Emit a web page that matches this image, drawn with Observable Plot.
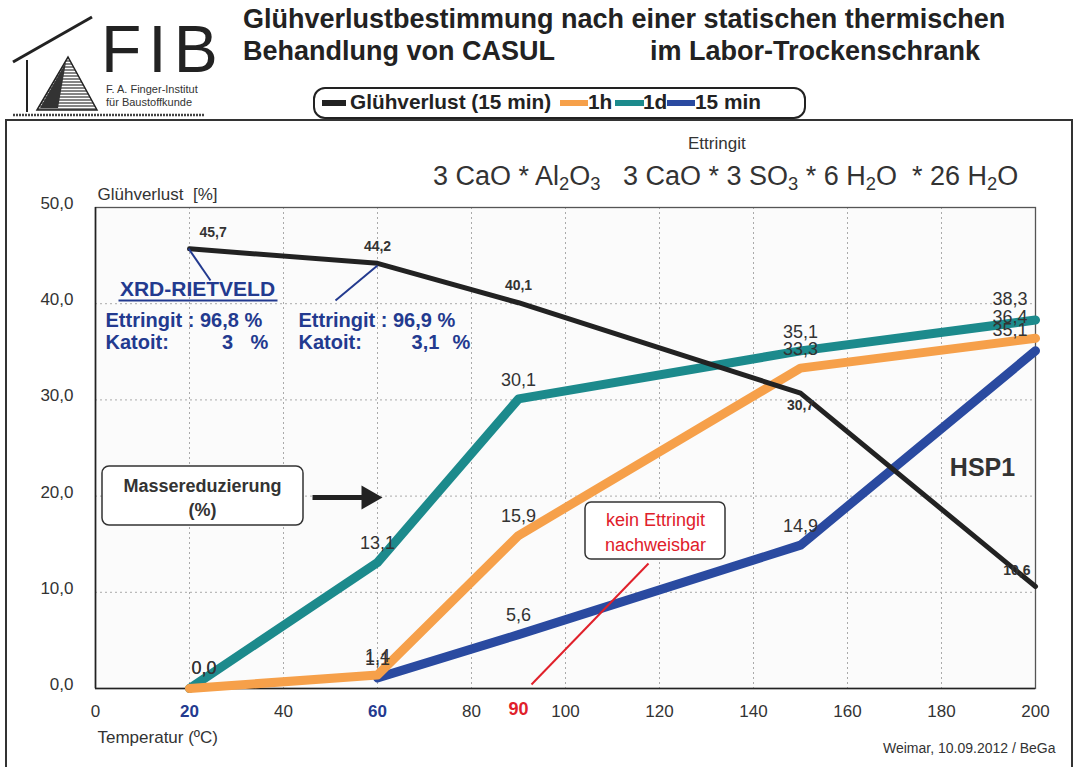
<!DOCTYPE html>
<html><head><meta charset="utf-8">
<script src="https://cdn.jsdelivr.net/npm/d3@7"></script>
<script src="https://cdn.jsdelivr.net/npm/@observablehq/plot@0.6"></script>
<style>
body{margin:0;background:#fff;font-family:"Liberation Sans",Arial,sans-serif;}
#page{position:relative;width:1077px;height:767px;overflow:hidden;background:#fff;color:#222}
.abs{position:absolute;white-space:pre;}
.title{font-weight:bold;font-size:27px;color:#222;}
.leg{font-weight:bold;font-size:20.8px;color:#222;top:90px;}
.sw{position:absolute;top:100px;height:6px;}
sub{font-size:0.68em;vertical-align:-0.25em;line-height:0;}
#plot{position:absolute;left:0;top:120px;}
#frame{position:absolute;left:5px;top:119px;width:1064px;height:700px;border:2px solid #333;pointer-events:none;}
</style></head><body><div id="page">
<svg class="abs" width="240" height="120" style="left:0;top:0">
  <defs>
    <pattern id="hatch" width="4" height="3" patternUnits="userSpaceOnUse">
      <line x1="0" y1="1" x2="4" y2="1" stroke="#333" stroke-width="1.2"/>
    </pattern>
  </defs>
  <line x1="13" y1="62" x2="92" y2="17" stroke="#222" stroke-width="3"/>
  <line x1="27" y1="60" x2="27" y2="112" stroke="#222" stroke-width="2"/>
  <polygon points="37,110 68,57 97,110" fill="url(#hatch)" stroke="#222" stroke-width="1.5"/>
  <polygon points="40,108 66,62 58,108" fill="#333"/>
  <line x1="13" y1="115" x2="205" y2="115" stroke="#444" stroke-width="2.5" stroke-dasharray="2,1"/>
  <text x="101" y="72" font-size="66" letter-spacing="7" fill="#222" font-family="Liberation Sans, Arial, sans-serif">FIB</text>
  <text x="106" y="93" font-size="11" fill="#333" font-family="Liberation Sans, Arial, sans-serif">F. A. Finger-Institut</text>
  <text x="106" y="106" font-size="11" fill="#333" font-family="Liberation Sans, Arial, sans-serif">für Baustoffkunde</text>
</svg>
<div class="abs title" style="left:243px;top:4px;">Glühverlustbestimmung nach einer statischen thermischen</div>
<div class="abs title" style="left:243px;top:36px;">Behandlung von CASUL</div>
<div class="abs title" style="left:650px;top:36px;">im Labor-Trockenschrank</div>
<div class="abs" style="left:313px;top:87px;width:489px;height:28px;border:2px solid #222;border-radius:12px;"></div>
<div class="sw" style="left:322px;width:24px;background:#222;"></div>
<div class="abs leg" style="left:350px;">Glühverlust (15 min)</div>
<div class="sw" style="left:560px;width:28px;background:#f6a04a;"></div>
<div class="abs leg" style="left:588px;">1h</div>
<div class="sw" style="left:615px;width:29px;background:#1c8a8c;"></div>
<div class="abs leg" style="left:643px;">1d</div>
<div class="sw" style="left:667px;width:28px;background:#2a4aa0;"></div>
<div class="abs leg" style="left:695px;">15 min</div>
<div class="abs" style="left:688px;top:134px;font-size:17px;color:#333;">Ettringit</div>
<div class="abs" style="left:433px;top:161px;font-size:27px;color:#333;">3 CaO * Al<sub>2</sub>O<sub>3</sub>   3 CaO * 3 SO<sub>3</sub> * 6 H<sub>2</sub>O  * 26 H<sub>2</sub>O</div>
<div id="plot"></div>
<div id="frame"></div>
</div>
<script>
// ---- data ----
const temps = [20, 60, 90, 150, 200];
const gluehverlust15min = [45.7, 44.2, 40.1, 30.7, 10.6];
const masse1h = [0.0, 1.4, 15.9, 33.3, 36.4];
const masse1d = [0.0, 13.1, 30.1, 35.1, 38.3];
const temps15min = [60, 90, 150, 200];
const masse15min = [1.1, 5.6, 14.9, 35.1];
const xTicks = [0, 20, 40, 60, 80, 100, 120, 140, 160, 180, 200];
const yTicks = [0, 10, 20, 30, 40, 50];
const xTicksBlue = [20, 60];
const xTicksRed = [90];

const fmt = v => v.toFixed(1).replace(".", ",");
const rows = (xs, ys, key) => xs.map((x, i) => ({x, y: ys[i], key}));

const series = [
  {rows: rows(temps, masse1d, "1d"), color: "#1c8a8c", width: 9, bold: false},
  {rows: rows(temps15min, masse15min, "15 min"), color: "#2a4aa0", width: 9, bold: false},
  {rows: rows(temps, masse1h, "1h"), color: "#f6a04a", width: 9, bold: false},
  {rows: rows(temps, gluehverlust15min, "Glühverlust (15 min)"), color: "#222", width: 5, bold: true}
];

const px = v => (v - 95) / 4.7;       // helper for annotation placement
const py = v => (688 - v) / 9.62;

function labelMarks(s) {
  const base = {x: "x", y: "y", text: d => fmt(d.y),
    fontSize: s.bold ? 14 : 18, fontWeight: s.bold ? "bold" : "normal", fill: "#333"};
  const below = d => s.bold && d.x === 150;
  return [
    Plot.text(s.rows.filter(d => d.x === 20), {...base, textAnchor: "start", dx: s.bold ? 10 : 2, dy: s.bold ? -16 : -20}),
    Plot.text(s.rows.filter(d => d.x > 20 && d.x < 200 && !below(d)), {...base, dy: s.bold ? -17 : -19}),
    Plot.text(s.rows.filter(d => below(d)), {...base, dy: 12}),
    Plot.text(s.rows.filter(d => d.x === 200), {...base, textAnchor: "end", dx: s.bold ? -5 : -8, dy: s.bold ? -16 : -21})
  ];
}

const blue = "#233a8f";
const red = "#e0202a";

const chart = Plot.plot({
  width: 1077,
  height: 647,
  marginLeft: 95,
  marginRight: 42,
  marginTop: 87,
  marginBottom: 79,
  x: {domain: [0, 200], axis: null},
  y: {domain: [0, 50]},
  style: {fontFamily: "Liberation Sans, Arial, sans-serif", fontSize: "17px", background: "transparent", overflow: "visible"},
  marks: [
    Plot.frame({fill: "#fbfbfb"}),
    Plot.gridX({ticks: xTicks.slice(1), stroke: "#aaa", strokeOpacity: 1, strokeDasharray: "2,3"}),
    Plot.gridY({ticks: yTicks.slice(1, -1), stroke: "#aaa", strokeOpacity: 1, strokeDasharray: "2,3"}),
    Plot.frame({stroke: "#555", strokeWidth: 1.3}),
    Plot.ruleY([0], {stroke: "#222", strokeWidth: 1.6}),
    Plot.ruleX([0], {stroke: "#222", strokeWidth: 1.6}),
    Plot.axisY({ticks: yTicks, tickSize: 0, tickPadding: 22, tickFormat: fmt, fontSize: 17, dy: -4, label: null, fill: "#333"}),
    // x tick labels
    Plot.text(xTicks.filter(t => !xTicksBlue.includes(t)), {x: d => d, text: d => String(d), frameAnchor: "bottom", dy: 28, fontSize: 17, fill: "#333"}),
    Plot.text(xTicksBlue, {x: d => d, text: d => String(d), frameAnchor: "bottom", dy: 28, fontSize: 17, fontWeight: "bold", fill: blue}),
    Plot.text(xTicksRed, {x: d => d, text: d => String(d), frameAnchor: "bottom", dy: 26, fontSize: 18, fontWeight: "bold", fill: red}),
    // axis titles
    Plot.text(["Glühverlust  [%]"], {frameAnchor: "top-left", textAnchor: "start", dx: 2, dy: -20, fontSize: 17, fill: "#333"}),
    Plot.text(["Temperatur (ºC)"], {frameAnchor: "bottom-left", textAnchor: "start", dx: 2, dy: 54, fontSize: 17, fill: "#333"}),
    Plot.text(["Weimar, 10.09.2012 / BeGa"], {frameAnchor: "bottom-right", textAnchor: "end", dx: 20, dy: 64, fontSize: 14, fill: "#333"}),
    // data lines
    ...series.map(s => Plot.line(s.rows, {x: "x", y: "y", stroke: s.color, strokeWidth: s.width, strokeLinejoin: "round"})),
    // data labels
    ...series.flatMap(labelMarks),
    // XRD annotation
    Plot.link([{a: 0}], {x1: px(188), y1: py(248), x2: px(210), y2: py(280), stroke: blue, strokeWidth: 2}),
    Plot.link([{a: 0}], {x1: px(377), y1: py(265), x2: px(335), y2: py(300), stroke: blue, strokeWidth: 2}),
    Plot.text(["XRD-RIETVELD"], {x: px(197), y: py(289), fontSize: 21, fontWeight: "bold", fill: blue}),
    Plot.link([{a: 0}], {x1: px(118), y1: py(300), x2: px(277), y2: py(300), stroke: blue, strokeWidth: 2}),
    Plot.text(["Ettringit : 96,8 %"], {x: px(105), y: py(320), textAnchor: "start", fontSize: 20, fontWeight: "bold", fill: blue}),
    Plot.text(["Katoit:"], {x: px(105), y: py(342), textAnchor: "start", fontSize: 20, fontWeight: "bold", fill: blue}),
    Plot.text(["3"], {x: px(227), y: py(342), fontSize: 20, fontWeight: "bold", fill: blue}),
    Plot.text(["%"], {x: px(250), y: py(342), textAnchor: "start", fontSize: 20, fontWeight: "bold", fill: blue}),
    Plot.text(["Ettringit : 96,9 %"], {x: px(298), y: py(320), textAnchor: "start", fontSize: 20, fontWeight: "bold", fill: blue}),
    Plot.text(["Katoit:"], {x: px(298), y: py(342), textAnchor: "start", fontSize: 20, fontWeight: "bold", fill: blue}),
    Plot.text(["3,1"], {x: px(425), y: py(342), fontSize: 20, fontWeight: "bold", fill: blue}),
    Plot.text(["%"], {x: px(452), y: py(342), textAnchor: "start", fontSize: 20, fontWeight: "bold", fill: blue}),
    // Massereduzierung box + arrow
    Plot.rect([{a: 0}], {x1: px(102), x2: px(303), y1: py(466), y2: py(525), fill: "white", stroke: "#333", strokeWidth: 1.5, rx: 7}),
    Plot.text(["Massereduzierung"], {x: px(202), y: py(486), fontSize: 18, fontWeight: "bold", fill: "#333"}),
    Plot.text(["(%)"], {x: px(202), y: py(510), fontSize: 18, fontWeight: "bold", fill: "#333"}),
    Plot.link([{a: 0}], {x1: px(312), y1: py(497), x2: px(364), y2: py(497), stroke: "#222", strokeWidth: 5}),
    Plot.dot([{a: 0}], {x: px(368), y: py(497), symbol: "triangle", rotate: 90, r: 9, fill: "#222", stroke: "none"}),
    // kein Ettringit box + leader
    Plot.link([{a: 0}], {x1: px(648), y1: py(563), x2: px(531), y2: py(684), stroke: red, strokeWidth: 2}),
    Plot.rect([{a: 0}], {x1: px(585), x2: px(725), y1: py(502), y2: py(559), fill: "white", stroke: "#333", strokeWidth: 1.5, rx: 6}),
    Plot.text(["kein Ettringit"], {x: px(655), y: py(520), fontSize: 18, fill: red}),
    Plot.text(["nachweisbar"], {x: px(655), y: py(545), fontSize: 18, fill: red}),
    Plot.text(["HSP1"], {x: px(982), y: py(467), fontSize: 25, fontWeight: "bold", fill: "#333"})
  ]
});
document.getElementById("plot").appendChild(chart);
</script>
</body></html>
